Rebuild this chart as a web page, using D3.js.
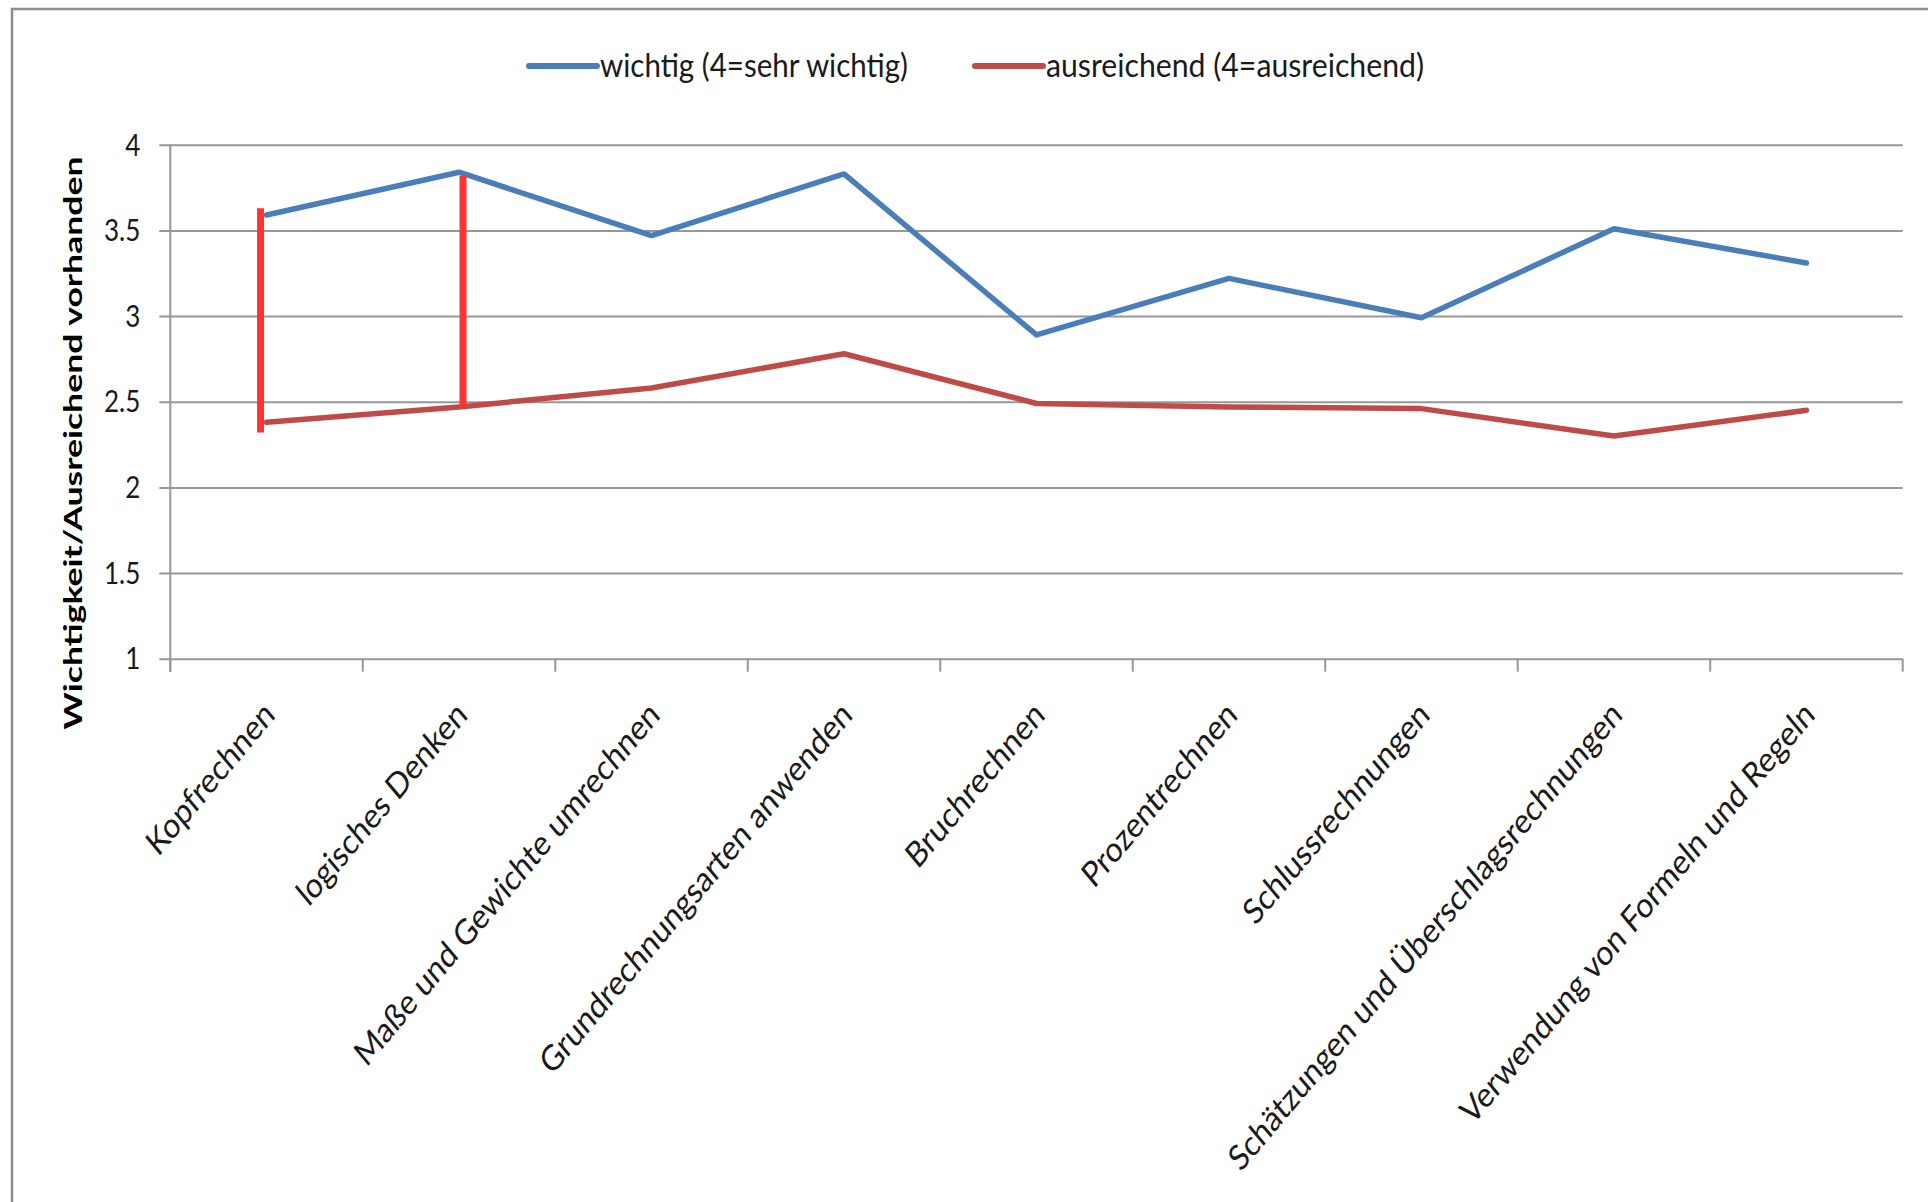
<!DOCTYPE html>
<html>
<head>
<meta charset="utf-8">
<script src="https://cdn.jsdelivr.net/npm/d3@7"></script>
<style>
  html, body { margin: 0; padding: 0; background: #fff; }
  svg { display: block; }
</style>
</head>
<body>
<svg id="chart"></svg>
<script>
// chart data
const categories = ['Kopfrechnen', 'logisches Denken', 'Maße und Gewichte umrechnen', 'Grundrechnungsarten anwenden',
  'Bruchrechnen', 'Prozentrechnen', 'Schlussrechnungen', 'Schätzungen und Überschlagsrechnungen',
  'Verwendung von Formeln und Regeln'];
const wichtigValues = [3.59, 3.84, 3.47, 3.83, 2.89, 3.22, 2.99, 3.51, 3.31];
const ausreichendValues = [2.38, 2.47, 2.58, 2.78, 2.49, 2.47, 2.46, 2.30, 2.45];
const seriesNames = ['wichtig (4=sehr wichtig)', 'ausreichend (4=ausreichend)'];
const yTickValues = [1, 1.5, 2, 2.5, 3, 3.5, 4];
const yTitle = 'Wichtigkeit/Ausreichend vorhanden';
// red gap markers drawn by hand on the original
const gapCategories = ['Kopfrechnen', 'logisches Denken'];
const gapFrom = [2.32, 2.48];
const gapTo = [3.63, 3.82];

class LineChart {

  constructor(_config) {
    this.config = {
      parentElement: _config.parentElement,
      containerWidth: _config.containerWidth || 1928,
      containerHeight: _config.containerHeight || 1202,
      margin: { top: 144.8, bottom: 543.3, right: 25.3, left: 170.3 }
    }
    this.initVis();
  }

  initVis() {
    let vis = this;

    vis.colors = ['#4a7ebb', '#be4b48'];
    vis.squeeze = 0.84;   // the source picture is narrower than it should be, text looks condensed
    vis.font = 'Lato, Carlito, Calibri, sans-serif';

    vis.width = vis.config.containerWidth - vis.config.margin.left - vis.config.margin.right;
    vis.height = vis.config.containerHeight - vis.config.margin.top - vis.config.margin.bottom;

    vis.svg = d3.select(vis.config.parentElement)
        .attr('width', vis.config.containerWidth)
        .attr('height', vis.config.containerHeight);

    // chart area frame (only top and left edges are visible in the crop)
    vis.svg.append('path')
        .attr('d', `M12,${vis.config.containerHeight} L12,9 L${vis.config.containerWidth},9`)
        .attr('fill', 'none')
        .attr('stroke', '#8d8d8d')
        .attr('stroke-width', 2.5);

    vis.chart = vis.svg.append('g')
        .attr('transform', `translate(${vis.config.margin.left},${vis.config.margin.top})`);

    vis.x = d3.scaleBand().domain(categories).range([0, vis.width]).padding(0);
    vis.y = d3.scaleLinear().domain([1, 4]).range([vis.height, 0]);

    vis.renderVis();
  }

  renderVis() {
    let vis = this;
    const cx = d => vis.x(d) + vis.x.bandwidth() / 2;

    // y axis with gridlines
    const yAxis = d3.axisLeft(vis.y)
        .tickValues(yTickValues)
        .tickSizeInner(-vis.width)
        .tickSizeOuter(0)
        .tickFormat(d => d);

    const yAxisG = vis.chart.append('g').attr('class', 'y-axis').call(yAxis);
    yAxisG.select('.domain').remove();
    yAxisG.selectAll('.tick line')
        .attr('x1', -11)
        .attr('stroke', '#979797')
        .attr('stroke-width', 2);
    yAxisG.selectAll('.tick text')
        .attr('x', 0)
        .attr('dy', '0.33em')
        .attr('transform', `translate(-30,0) scale(${vis.squeeze},1)`)
        .attr('font-family', vis.font)
        .attr('font-size', 31)
        .attr('fill', '#1a1a1a');

    // vertical axis line
    vis.chart.append('line')
        .attr('x1', 0).attr('x2', 0)
        .attr('y1', 0).attr('y2', vis.height + 13)
        .attr('stroke', '#979797')
        .attr('stroke-width', 2);

    // category boundary ticks below the x axis
    const boundaries = categories.map(c => vis.x(c)).concat([vis.x.range()[1]]);
    vis.chart.selectAll('.x-tick')
      .data(boundaries)
      .join('line')
        .attr('class', 'x-tick')
        .attr('x1', d => d).attr('x2', d => d)
        .attr('y1', vis.height).attr('y2', vis.height + 13)
        .attr('stroke', '#979797')
        .attr('stroke-width', 2);

    // rotated category labels
    vis.chart.selectAll('.x-label')
      .data(categories)
      .join('text')
        .attr('class', 'x-label')
        .attr('transform', d => `translate(${cx(d) + 10},${vis.height + 58}) scale(${vis.squeeze},1) rotate(-45)`)
        .attr('text-anchor', 'end')
        .attr('font-family', vis.font)
        .attr('font-size', 35.3)
        .attr('fill', '#1a1a1a')
        .text(d => d);

    // y axis title
    vis.svg.append('text')
        .attr('transform', `translate(82,443) scale(${vis.squeeze},1) rotate(-90)`)
        .attr('text-anchor', 'middle')
        .attr('font-family', vis.font)
        .attr('font-weight', 'bold')
        .attr('font-size', 30)
        .attr('textLength', 573)
        .attr('lengthAdjust', 'spacingAndGlyphs')
        .attr('fill', '#000')
        .text(yTitle);

    // series lines
    const line = d3.line()
        .x((d, i) => cx(categories[i]))
        .y(d => vis.y(d));

    vis.chart.selectAll('.series')
      .data([wichtigValues, ausreichendValues])
      .join('path')
        .attr('class', 'series')
        .attr('d', d => line(d))
        .attr('fill', 'none')
        .attr('stroke', (d, i) => vis.colors[i])
        .attr('stroke-width', 5.5)
        .attr('stroke-linejoin', 'round')
        .attr('stroke-linecap', 'round');

    // red gap markers
    const gapShift = [-6, 4];
    vis.chart.selectAll('.gap')
      .data(gapCategories)
      .join('line')
        .attr('class', 'gap')
        .attr('x1', (d, i) => cx(d) + gapShift[i])
        .attr('x2', (d, i) => cx(d) + gapShift[i])
        .attr('y1', (d, i) => vis.y(gapFrom[i]))
        .attr('y2', (d, i) => vis.y(gapTo[i]))
        .attr('stroke', '#ff3333')
        .attr('stroke-width', 7);

    // legend
    const legendX = [529, 975];
    const legendTextLen = [308, 378];
    const legend = vis.svg.selectAll('.legend')
      .data(seriesNames)
      .join('g')
        .attr('class', 'legend')
        .attr('transform', (d, i) => `translate(${legendX[i]},66)`);

    legend.append('line')
        .attr('x1', 0).attr('x2', 68)
        .attr('y1', 0).attr('y2', 0)
        .attr('stroke', (d, i) => vis.colors[i])
        .attr('stroke-width', 6)
        .attr('stroke-linecap', 'round');

    legend.append('text')
        .attr('x', 71)
        .attr('y', 11)
        .attr('font-family', vis.font)
        .attr('font-size', 32)
        .attr('textLength', (d, i) => legendTextLen[i])
        .attr('lengthAdjust', 'spacingAndGlyphs')
        .attr('fill', '#1a1a1a')
        .text(d => d);
  }
}

const lineChart = new LineChart({ parentElement: '#chart', containerWidth: 1928, containerHeight: 1202 });
</script>
</body>
</html>
